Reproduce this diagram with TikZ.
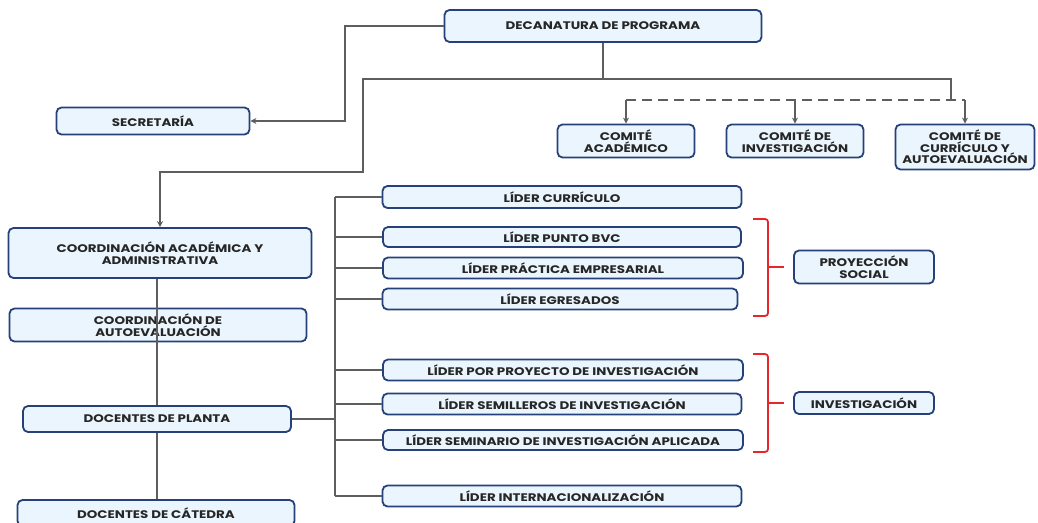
\documentclass[tikz,border=0pt]{standalone}
\usepackage{fontspec}
\setmainfont{Poppins}[FakeStretch=1.22]
\usetikzlibrary{positioning, arrows.meta}
\definecolor{boxline}{HTML}{26407A}
\definecolor{boxfill}{HTML}{EAF5FD}
\definecolor{connline}{HTML}{5E5E5E}
\definecolor{brace}{HTML}{E8262A}

\begin{document}
\begin{tikzpicture}[
                    x=1pt, y=-1pt,
                    unit/.style={draw=boxline, fill=boxfill, line width=1.8pt,
                      rounded corners=5pt, inner sep=0pt, align=center,
                      text=black!85, font=\fontsize{11}{11.6}\selectfont\bfseries},
                    conn/.style={draw=connline, line width=2.2pt},
                    arr/.style={conn, -{Stealth[length=6pt, width=6pt]}},
                    bracket/.style={draw=brace, line width=1.8pt, rounded corners=3pt}
                ]
  \useasboundingbox (0,0) rectangle (1038,522);

  % top of the chart
  \node[unit, minimum width=317pt, minimum height=32pt] (dec) at (603,26) {DECANATURA DE PROGRAMA};
  \node[unit, minimum width=193pt, minimum height=27pt] (sec) at (153,121) {SECRETARÍA};

  % committees
  \node[unit, minimum width=137pt, minimum height=33pt] (cac) at (626,141) {COMITÉ\\ACADÉMICO};
  \node[unit, minimum width=137pt, minimum height=33pt] (cin) at (795,141) {COMITÉ DE\\INVESTIGACIÓN};
  \node[unit, minimum width=139pt, minimum height=45pt] (ccu) at (965,147) {COMITÉ DE\\CURRÍCULO Y\\AUTOEVALUACIÓN};

  % left column
  \node[unit, minimum width=303pt, minimum height=50pt] (cca) at (160,253) {COORDINACIÓN ACADÉMICA Y\\ADMINISTRATIVA};
  \node[unit, minimum width=297pt, minimum height=33pt] (cae) at (158,325) {COORDINACIÓN DE\\AUTOEVALUACIÓN};
  \node[unit, minimum width=268pt, minimum height=26pt] (dpl) at (157,419) {DOCENTES DE PLANTA};
  \node[unit, minimum width=277pt, minimum height=26pt] (dca) at (156,513) {DOCENTES DE CÁTEDRA};

  % leaders
  \node[unit, minimum width=359pt, minimum height=22pt] (lcu) at (562,197) {LÍDER CURRÍCULO};
  \node[unit, minimum width=358pt, minimum height=20pt] (lbv) at (562,237) {LÍDER PUNTO BVC};
  \node[unit, minimum width=360pt, minimum height=21pt] (lpe) at (563,268) {LÍDER PRÁCTICA EMPRESARIAL};
  \node[unit, minimum width=355pt, minimum height=21pt] (leg) at (560,299) {LÍDER EGRESADOS};
  \node[unit, minimum width=360pt, minimum height=21pt] (lpi) at (563,370) {LÍDER POR PROYECTO DE INVESTIGACIÓN};
  \node[unit, minimum width=359pt, minimum height=21pt] (lsi) at (562,404) {LÍDER SEMILLEROS DE INVESTIGACIÓN};
  \node[unit, minimum width=360pt, minimum height=20pt] (lsa) at (563,440) {LÍDER SEMINARIO DE INVESTIGACIÓN APLICADA};
  \node[unit, minimum width=359pt, minimum height=21pt] (lin) at (562,496) {LÍDER INTERNACIONALIZACIÓN};

  % groups
  \node[unit, minimum width=140pt, minimum height=33pt] (pso) at (864,267) {PROYECCIÓN\\SOCIAL};
  \node[unit, minimum width=140pt, minimum height=22pt] (inv) at (864,403) {INVESTIGACIÓN};

  % connectors from the dean
  \draw[arr] (dec.west) -- (345,26) |- (sec.east);
  \draw[conn] (dec.south) -- (603,79) coordinate (hub);
  \draw[arr] (hub) -| (363,172) -| (cca.north);
  \draw[conn] (hub) -| (951,100) coordinate (dend);
  \draw[conn, dashed, dash pattern=on 10pt off 6pt] (cac.north |- dend) -- (ccu.north |- dend);
  \foreach \c in {cac, cin, ccu}
    \draw[arr] (\c.north |- dend) -- (\c.north);

  % left column chain
  \draw[conn] (cca.south -| dpl.north) -- (cae.south -| dpl.north);
  \draw[conn] (cae.south -| dpl.north) -- (dpl.north);
  \draw[conn] (dpl.south) -- (dca.north -| dpl.south);

  % bus to the leaders
  \coordinate (bus) at (335,419);
  \draw[conn] (dpl.east) -- (bus);
  \draw[conn] (bus |- lcu.west) -- (bus |- lin.west);
  \foreach \l in {lcu, lbv, lpe, leg, lpi, lsi, lsa, lin}
    \draw[conn] (bus |- \l.west) -- (\l.west);

  % red brackets
  \draw[bracket] (753,219) -- (768,219) -- (768,316) -- (753,316);
  \draw[bracket] (768,267) -- (784,267);
  \draw[bracket] (753,354) -- (768,354) -- (768,452) -- (753,452);
  \draw[bracket] (768,403) -- (784,403);
\end{tikzpicture}
\end{document}
